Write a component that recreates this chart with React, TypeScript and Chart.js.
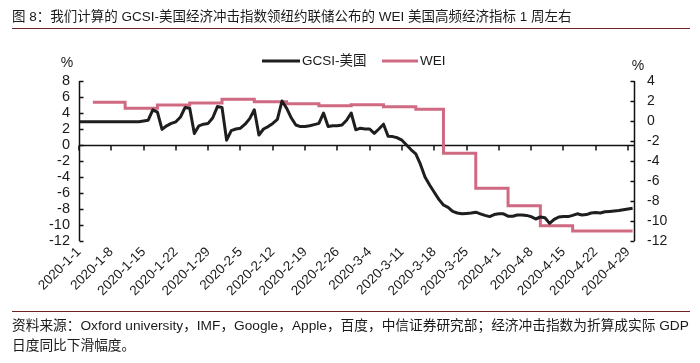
import React, { useEffect, useRef } from 'react';
import { Chart, registerables } from 'chart.js';

Chart.register(...registerables);

const titleText = '图 8：我们计算的 GCSI-美国经济冲击指数领纽约联储公布的 WEI 美国高频经济指标 1 周左右';
const sourceLines = [
  '资料来源：Oxford university，IMF，Google，Apple，百度，中信证券研究部；经济冲击指数为折算成实际 GDP',
  '日度同比下滑幅度。',
];
const legendLabels = ['GCSI-美国', 'WEI'];
const axisUnit = '%';

const startDate = '2020-1-1';
const endDate = '2020-4-30';
const xTickDates = [
  '2020-1-1', '2020-1-8', '2020-1-15', '2020-1-22', '2020-1-29', '2020-2-5', '2020-2-12',
  '2020-2-19', '2020-2-26', '2020-3-4', '2020-3-11', '2020-3-18', '2020-3-25', '2020-4-1',
  '2020-4-8', '2020-4-15', '2020-4-22', '2020-4-29',
];
const leftTicks = [8, 6, 4, 2, 0, -2, -4, -6, -8, -10, -12];
const rightTicks = [4, 2, 0, -2, -4, -6, -8, -10, -12];

// GCSI-美国 (left axis)
const gcsiDates = [
  '2020-1-1', '2020-1-14', '2020-1-15', '2020-1-16', '2020-1-17', '2020-1-18', '2020-1-19', '2020-1-20',
  '2020-1-21', '2020-1-22', '2020-1-23', '2020-1-24', '2020-1-25', '2020-1-26', '2020-1-27', '2020-1-28',
  '2020-1-29', '2020-1-30', '2020-1-31', '2020-2-1', '2020-2-2', '2020-2-3', '2020-2-4', '2020-2-5',
  '2020-2-6', '2020-2-7', '2020-2-8', '2020-2-9', '2020-2-10', '2020-2-11', '2020-2-12', '2020-2-13',
  '2020-2-14', '2020-2-15', '2020-2-16', '2020-2-17', '2020-2-18', '2020-2-19', '2020-2-20', '2020-2-21',
  '2020-2-22', '2020-2-23', '2020-2-24', '2020-2-25', '2020-2-26', '2020-2-27', '2020-2-28', '2020-2-29',
  '2020-3-1', '2020-3-2', '2020-3-3', '2020-3-4', '2020-3-5', '2020-3-6', '2020-3-7', '2020-3-8',
  '2020-3-9', '2020-3-10', '2020-3-11', '2020-3-12', '2020-3-13', '2020-3-14', '2020-3-15', '2020-3-16',
  '2020-3-17', '2020-3-18', '2020-3-19', '2020-3-20', '2020-3-21', '2020-3-22', '2020-3-23', '2020-3-24',
  '2020-3-25', '2020-3-26', '2020-3-27', '2020-3-28', '2020-3-29', '2020-3-30', '2020-3-31', '2020-4-1',
  '2020-4-2', '2020-4-3', '2020-4-4', '2020-4-5', '2020-4-6', '2020-4-7', '2020-4-8', '2020-4-9',
  '2020-4-10', '2020-4-11', '2020-4-12', '2020-4-13', '2020-4-14', '2020-4-15', '2020-4-16', '2020-4-17',
  '2020-4-18', '2020-4-19', '2020-4-20', '2020-4-21', '2020-4-22', '2020-4-23', '2020-4-24', '2020-4-25',
  '2020-4-26', '2020-4-27', '2020-4-28', '2020-4-29', '2020-4-30',
];
const gcsiValues = [
  2.9, 2.9, 3.0, 3.1, 4.4, 4.1, 1.95, 2.4,
  2.7, 2.9, 3.5, 4.7, 4.6, 1.45, 2.4, 2.6,
  2.7, 3.4, 4.8, 4.7, 0.6, 1.8, 2.0, 2.1,
  2.6, 3.3, 4.4, 1.25, 2.0, 2.3, 2.7, 3.2,
  5.5, 4.6, 3.4, 2.5, 2.3, 2.3, 2.4, 2.55,
  2.7, 4.0, 2.3, 2.4, 2.4, 2.5, 3.1, 4.0,
  1.9, 2.1, 2.0, 2.0, 1.45, 2.0, 2.6, 1.1,
  1.05, 0.9, 0.6, 0.0, -0.6, -1.1, -2.4, -4.0,
  -5.0, -5.9, -6.8, -7.5, -7.8, -8.3, -8.5, -8.6,
  -8.55, -8.5, -8.4, -8.6, -8.8, -8.95, -8.7, -8.6,
  -8.6, -8.9, -8.9, -8.75, -8.75, -8.8, -8.95, -9.25,
  -9.0, -9.1, -9.8, -9.3, -9.0, -8.95, -8.95, -8.8,
  -8.6, -8.75, -8.7, -8.5, -8.45, -8.5, -8.35, -8.3,
  -8.25, -8.2, -8.1, -8.0, -7.9,
];

// WEI (right axis), weekly values held until the next reading
const weiDates = [
  '2020-1-4', '2020-1-11', '2020-1-18', '2020-1-25', '2020-2-1', '2020-2-8', '2020-2-15', '2020-2-22',
  '2020-2-29', '2020-3-7', '2020-3-14', '2020-3-20', '2020-3-27', '2020-4-3', '2020-4-10', '2020-4-17',
  '2020-4-30',
];
const weiValues = [
  1.87, 1.27, 1.6, 1.8, 2.17, 1.93, 1.73, 1.53,
  1.63, 1.43, 1.17, -3.23, -6.73, -8.47, -10.47, -11.0,
  -11.0,
];

const gcsiColor = '#1e1e1e';
const weiColor = '#cf6a82';
const ruleColor = '#6e2222';
const textColor = '#1a1a1a';
const fontFamily = '"Liberation Sans", Arial, "Noto Sans CJK SC", sans-serif';

function dayIndex(s: string): number {
  const [y, m, d] = s.split('-').map(Number);
  const [y0, m0, d0] = startDate.split('-').map(Number);
  return (Date.UTC(y, m - 1, d) - Date.UTC(y0, m0 - 1, d0)) / 86400000;
}

const decorPlugin = {
  id: 'decor',
  beforeDatasetsDraw(chart: any) {
    const { ctx, chartArea } = chart;
    const yl = chart.scales.y;
    const xs = chart.scales.x;
    const y0 = Math.round(yl.getPixelForValue(0)) + 0.5;
    ctx.save();
    ctx.strokeStyle = '#111';
    ctx.lineWidth = 1.5;
    ctx.beginPath();
    ctx.moveTo(chartArea.left, y0);
    ctx.lineTo(chartArea.right, y0);
    xTickDates.forEach((d) => {
      const px = Math.round(xs.getPixelForValue(dayIndex(d)));
      ctx.moveTo(px, y0);
      ctx.lineTo(px, y0 + 5);
    });
    ctx.stroke();
    ctx.restore();
  },
  afterDraw(chart: any) {
    const { ctx, chartArea } = chart;
    const yl = chart.scales.y;
    const yr = chart.scales.y1;
    ctx.save();
    ctx.strokeStyle = '#111';
    ctx.lineWidth = 1.5;
    // left axis
    ctx.beginPath();
    const lx = Math.round(chartArea.left) + 0.5;
    ctx.moveTo(lx, yl.getPixelForValue(leftTicks[0]));
    ctx.lineTo(lx, yl.getPixelForValue(leftTicks[leftTicks.length - 1]));
    leftTicks.forEach((v) => {
      const py = Math.round(yl.getPixelForValue(v)) + 0.5;
      ctx.moveTo(lx, py);
      ctx.lineTo(lx + 4, py);
    });
    // right axis
    const rx = Math.round(chartArea.right) + 0.5;
    ctx.moveTo(rx, yr.getPixelForValue(rightTicks[0]));
    ctx.lineTo(rx, yr.getPixelForValue(rightTicks[rightTicks.length - 1]));
    rightTicks.forEach((v) => {
      const py = Math.round(yr.getPixelForValue(v)) + 0.5;
      ctx.moveTo(rx, py);
      ctx.lineTo(rx - 4, py);
    });
    ctx.stroke();

    // title and rules
    ctx.fillStyle = textColor;
    ctx.font = '13.5px ' + fontFamily;
    ctx.textAlign = 'left';
    ctx.textBaseline = 'alphabetic';
    ctx.fillText(titleText, 12, 21);
    ctx.strokeStyle = ruleColor;
    ctx.lineWidth = 1;
    ctx.beginPath();
    ctx.moveTo(12, 28.5);
    ctx.lineTo(690, 28.5);
    ctx.moveTo(12, 311.5);
    ctx.lineTo(690, 311.5);
    ctx.stroke();
    ctx.font = '13.7px ' + fontFamily;
    ctx.fillText(sourceLines[0], 12, 330);
    ctx.fillText(sourceLines[1], 12, 350);

    // unit labels
    ctx.font = '14px ' + fontFamily;
    ctx.textAlign = 'center';
    ctx.textBaseline = 'middle';
    ctx.fillText(axisUnit, 67, 63);
    ctx.fillText(axisUnit, 638, 66);

    // legend
    ctx.lineWidth = 3;
    ctx.strokeStyle = gcsiColor;
    ctx.beginPath();
    ctx.moveTo(262, 61);
    ctx.lineTo(300, 61);
    ctx.stroke();
    ctx.strokeStyle = weiColor;
    ctx.beginPath();
    ctx.moveTo(382, 61);
    ctx.lineTo(418, 61);
    ctx.stroke();
    ctx.font = '13.5px ' + fontFamily;
    ctx.textAlign = 'left';
    ctx.fillStyle = textColor;
    ctx.fillText(legendLabels[0], 302, 61);
    ctx.fillText(legendLabels[1], 420, 61);
    ctx.restore();
  },
};

export default function App() {
  const canvasRef = useRef<HTMLCanvasElement | null>(null);

  useEffect(() => {
    document.body.style.margin = '0';
    const canvas = canvasRef.current;
    if (!canvas) return;
    const chart = new Chart(canvas, {
      type: 'line',
      data: {
        datasets: [
          {
            label: legendLabels[0],
            data: gcsiDates.map((d, i) => ({ x: dayIndex(d), y: gcsiValues[i] })),
            borderColor: gcsiColor,
            borderWidth: 3,
            pointRadius: 0,
            tension: 0,
            yAxisID: 'y',
            borderJoinStyle: 'round',
          },
          {
            label: legendLabels[1],
            data: weiDates.map((d, i) => ({ x: dayIndex(d), y: weiValues[i] })),
            borderColor: weiColor,
            borderWidth: 3,
            pointRadius: 0,
            stepped: 'before',
            yAxisID: 'y1',
          },
        ],
      },
      options: {
        responsive: false,
        animation: false,
        events: [],
        layout: { padding: { top: 81, left: 0, right: 0, bottom: 0 } },
        plugins: {
          legend: { display: false },
          title: { display: false },
          tooltip: { enabled: false },
        },
        scales: {
          x: {
            type: 'linear',
            min: 0,
            max: dayIndex(endDate) + 0.3,
            grid: { display: false, drawTicks: false },
            border: { display: false },
            afterBuildTicks: (scale: any) => {
              scale.ticks = xTickDates.map((d) => ({ value: dayIndex(d) }));
            },
            afterFit: (scale: any) => {
              scale.height = 122;
            },
            ticks: {
              autoSkip: false,
              minRotation: 45,
              maxRotation: 45,
              padding: 3,
              color: textColor,
              font: { size: 13.5, family: fontFamily },
              callback: (_v: any, i: number) => xTickDates[i],
            },
          },
          y: {
            position: 'left',
            min: -12,
            max: 8,
            grid: { display: false, drawTicks: false },
            border: { display: false },
            afterBuildTicks: (scale: any) => {
              scale.ticks = leftTicks.map((v) => ({ value: v }));
            },
            afterFit: (scale: any) => {
              scale.width = 79;
            },
            ticks: {
              autoSkip: false,
              padding: 9,
              color: textColor,
              font: { size: 14.5, family: fontFamily },
            },
          },
          y1: {
            position: 'right',
            min: -12,
            max: 4,
            grid: { display: false, drawTicks: false },
            border: { display: false },
            afterBuildTicks: (scale: any) => {
              scale.ticks = rightTicks.map((v) => ({ value: v }));
            },
            afterFit: (scale: any) => {
              scale.width = 66;
            },
            ticks: {
              autoSkip: false,
              padding: 13,
              color: textColor,
              font: { size: 14, family: fontFamily },
            },
          },
        },
      },
      plugins: [decorPlugin],
    } as any);
    return () => chart.destroy();
  }, []);

  return (
    <div style={{ width: 700, height: 363, position: 'relative', background: '#fff' }}>
      <canvas ref={canvasRef} width={700} height={363} />
    </div>
  );
}
